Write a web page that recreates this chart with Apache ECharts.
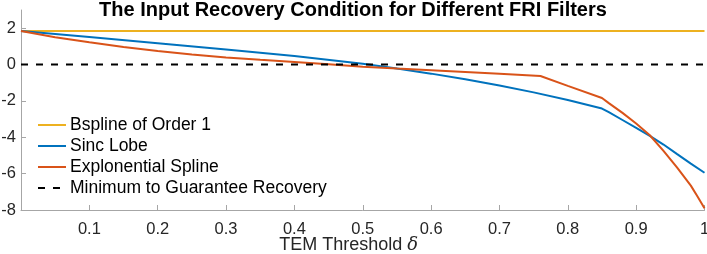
<!DOCTYPE html>
<html>
<head>
<meta charset="utf-8">
<script src="https://cdn.jsdelivr.net/npm/echarts@6/dist/echarts.min.js"></script>
<style>
html,body{margin:0;padding:0;background:#fff;}
#c{width:707px;height:254px;}
</style>
</head>
<body>
<div id="c"></div>
<script>
const titleText = 'The Input Recovery Condition for Different FRI Filters';
const seriesNames = ['Bspline of Order 1', 'Sinc Lobe', 'Explonential Spline', 'Minimum to Guarantee Recovery'];
const xTicks = [0.1, 0.2, 0.3, 0.4, 0.5, 0.6, 0.7, 0.8, 0.9, 1];
const yTicks = [-8, -6, -4, -2, 0, 2];

const bsplineX = [0, 1];
const bsplineY = [1.845, 1.845];

const sincX = [0, 0.1, 0.2, 0.3, 0.4, 0.5, 0.55, 0.6, 0.65, 0.7, 0.75, 0.8, 0.85, 0.86, 0.88, 0.9, 0.92, 0.94, 0.96, 0.98, 1.0];
const sincY = [1.85, 1.52, 1.17, 0.83, 0.47, 0.05, -0.22, -0.5, -0.81, -1.15, -1.53, -1.95, -2.42, -2.62, -3.05, -3.48, -3.92, -4.4, -4.93, -5.45, -5.95];

const expX = [0, 0.05, 0.1, 0.15, 0.2, 0.25, 0.3, 0.35, 0.4, 0.45, 0.5, 0.55, 0.6, 0.65, 0.7, 0.76, 0.8, 0.85, 0.86, 0.88, 0.9, 0.92, 0.94, 0.96, 0.98, 0.99, 1.0];
const expY = [1.85, 1.5, 1.22, 0.97, 0.75, 0.55, 0.39, 0.26, 0.14, 0.02, -0.12, -0.22, -0.31, -0.41, -0.51, -0.63, -1.17, -1.84, -2.12, -2.66, -3.24, -3.89, -4.75, -5.67, -6.66, -7.27, -7.91];

const minX = [0, 1];
const minY = [0, 0];

const zip = (xs, ys) => xs.map((x, i) => [x, ys[i]]);

const chart = echarts.init(document.getElementById('c'));
const font = '"Liberation Sans", Arial, sans-serif';
chart.setOption({
  animation: false,
  backgroundColor: '#fff',
  title: {
    text: titleText,
    left: 353, top: 0, textAlign: 'center', padding: 0,
    textStyle: {fontFamily: font, fontWeight: 'bold', fontSize: 20, color: '#000'}
  },
  grid: {left: 21, right: 2.5, top: 10, bottom: 44, outerBoundsMode: 'none', containLabel: false},
  legend: {
    orient: 'vertical', left: 32, top: 111,
    itemWidth: 28, itemHeight: 10, itemGap: 3,
    data: seriesNames,
    itemStyle: {opacity: 0},
    textStyle: {fontFamily: font, fontSize: 17.5, lineHeight: 18, color: '#000', padding: [0,0,0,-1]}
  },
  xAxis: {
    type: 'value', min: 0, max: 1,
    name: '{a|TEM Threshold }{b|δ}', nameLocation: 'middle', nameGap: 26, nameMoveOverlap: false,
    nameTextStyle: {
      padding: [0, 28, 0, 0],
      rich: {
        a: {fontFamily: font, fontSize: 18, color: '#262626'},
        b: {fontFamily: '"DejaVu Serif", serif', fontStyle: 'italic', fontSize: 18, color: '#262626'}
      }
    },
    axisLine: {show: true, onZero: false, lineStyle: {color: '#a6a6a6', width: 1}},
    axisTick: {show: true, inside: true, length: 5, customValues: xTicks, lineStyle: {color: '#a6a6a6'}},
    axisLabel: {customValues: xTicks, margin: 11, fontFamily: font, fontSize: 16.5, color: '#262626',
      formatter: v => String(Math.round(v * 10) / 10)},
    splitLine: {show: false}
  },
  yAxis: {
    type: 'value', min: -8, max: 3,
    axisLine: {show: true, onZero: false, lineStyle: {color: '#a6a6a6', width: 1}},
    axisTick: {show: true, inside: true, length: 5, customValues: yTicks, lineStyle: {color: '#a6a6a6'}},
    axisLabel: {customValues: yTicks, margin: 5, fontFamily: font, fontSize: 16.5, color: '#262626'},
    splitLine: {show: false}
  },
  series: [
    {name: seriesNames[0], type: 'line', data: zip(bsplineX, bsplineY), symbol: 'none',
      lineStyle: {color: '#EDB120', width: 2}, itemStyle: {color: '#EDB120'}},
    {name: seriesNames[1], type: 'line', data: zip(sincX, sincY), symbol: 'none',
      lineStyle: {color: '#0072BD', width: 2}, itemStyle: {color: '#0072BD'}},
    {name: seriesNames[2], type: 'line', data: zip(expX, expY), symbol: 'none',
      lineStyle: {color: '#D95319', width: 2}, itemStyle: {color: '#D95319'}},
    {name: seriesNames[3], type: 'line', data: zip(minX, minY), symbol: 'none',
      lineStyle: {color: '#000', width: 2, type: [7, 8]}, itemStyle: {color: '#000'}}
  ]
});
</script>
</body>
</html>
